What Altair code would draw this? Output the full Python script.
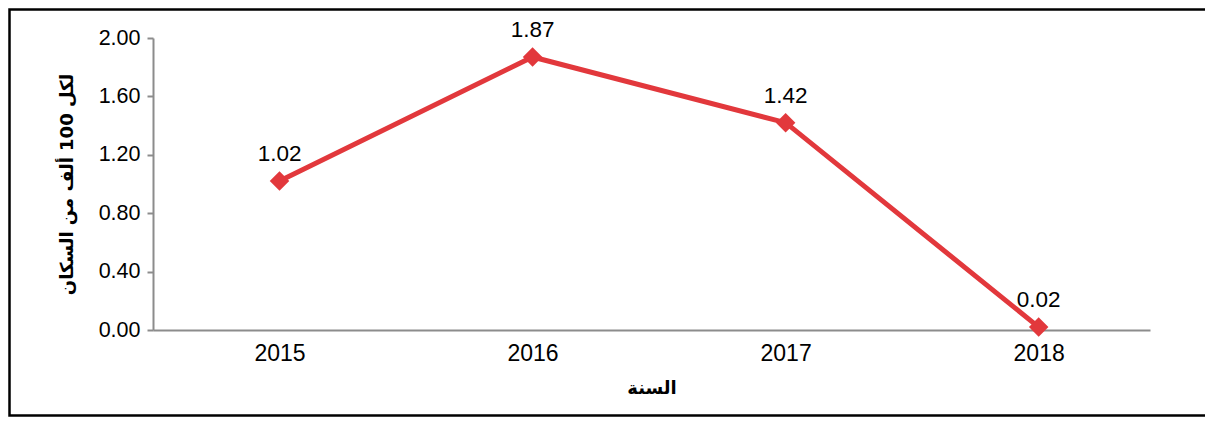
import altair as alt
import pandas as pd

years = [2015, 2016, 2017, 2018]
values = [1.02, 1.87, 1.42, 0.02]
labels = ["1.02", "1.87", "1.42", "0.02"]
y_ticks = [0.0, 0.4, 0.8, 1.2, 1.6, 2.0]

df = pd.DataFrame({"year": years, "value": values, "label": labels})

RED = "#E2383C"
FONT = "Liberation Sans"
AXIS_GREY = "#8c8c8c"

x = alt.X("year:Q",
          scale=alt.Scale(domain=[2014.5, 2018.44], nice=False, zero=False),
          axis=alt.Axis(values=years, format="d", ticks=False, grid=False,
                        domainColor=AXIS_GREY, domainWidth=2,
                        labelFontSize=23, labelColor="black", labelFont=FONT,
                        labelPadding=12,
                        title="السنة", titleFontSize=18, titleFontWeight="bold",
                        titleFont="DejaVu Sans", titlePadding=14, titleColor="black"))
y = alt.Y("value:Q",
          scale=alt.Scale(domain=[0, 2], nice=False),
          axis=alt.Axis(values=y_ticks, format=".2f", grid=False,
                        domainColor=AXIS_GREY, domainWidth=2,
                        tickColor=AXIS_GREY, tickSize=6, tickWidth=2,
                        labelFontSize=21.5, labelColor="black", labelFont=FONT,
                        labelPadding=7,
                        title="لكل 100 ألف من السكان", titleFontSize=18,
                        titleFontWeight="bold", titleFont="DejaVu Sans",
                        titlePadding=22, titleColor="black"))

line = alt.Chart(df).mark_line(color=RED, strokeWidth=5).encode(x=x, y=y)
pts = alt.Chart(df).mark_point(shape="diamond", filled=True, color=RED, size=380, opacity=1).encode(x=x, y=y)
txt = alt.Chart(df).mark_text(dy=-27, fontSize=22.5, font=FONT, color="black").encode(x=x, y=y, text="label:N")

# outer frame of the whole chart drawn as one open path (left, top, bottom)
frame_df = pd.DataFrame({"o": [0, 1, 2, 3],
                         "fx": [1070, -143.5, -143.5, 1070],
                         "fy": [-28.5, -28.5, 377.5, 377.5]})
frame = alt.Chart(frame_df).mark_line(color="black", strokeWidth=2.5, clip=False).encode(
    x=alt.X("fx:Q", scale=None), y=alt.Y("fy:Q", scale=None), order="o:Q")

chart = alt.layer(frame, line, pts, txt).properties(
    width=997, height=292,
    padding={"left": 145, "top": 30, "right": 55, "bottom": 87},
    autosize=alt.AutoSizeParams(type="none"),
    background="white",
    view=alt.ViewBackground(stroke=None, strokeWidth=0),
)

chart.save("out.html", embed_options={"renderer": "svg", "actions": False})
